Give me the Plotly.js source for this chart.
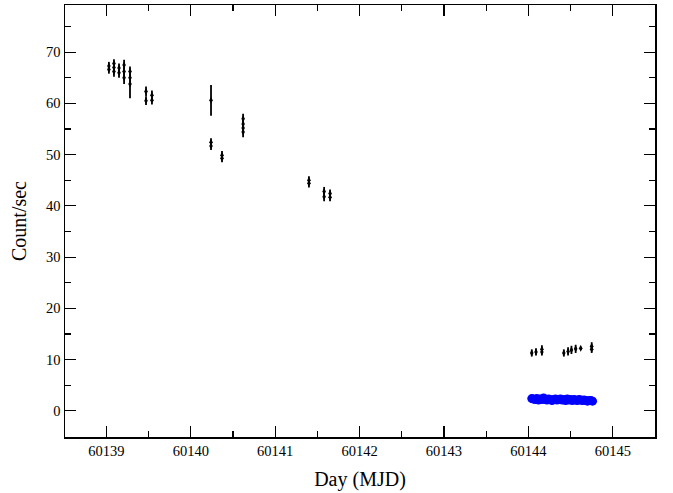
<!DOCTYPE html>
<html>
<head>
<meta charset="utf-8">
<script src="https://cdn.plot.ly/plotly-3.0.1.min.js"></script>
<style>html,body{margin:0;padding:0;background:#fff;}#chart{width:673px;height:493px;}</style>
</head>
<body>
<div id="chart"></div>
<script>
// Black series (higher count rate)
const blackX = [60139.03, 60139.03, 60139.09, 60139.09, 60139.09, 60139.15, 60139.15,
  60139.21, 60139.21, 60139.21, 60139.28, 60139.28, 60139.28,
  60139.47, 60139.47, 60139.54, 60139.54,
  60140.24, 60140.24, 60140.24, 60140.37, 60140.37,
  60140.62, 60140.62, 60140.62, 60140.62,
  60141.40, 60141.40, 60141.58, 60141.58, 60141.65, 60141.65,
  60144.04, 60144.09, 60144.16, 60144.16, 60144.42, 60144.47, 60144.51, 60144.56, 60144.62, 60144.75, 60144.75];
const blackY = [67.3, 66.6, 67.8, 67.0, 66.2, 66.9, 66.0,
  67.5, 66.2, 65.0, 66.2, 65.0, 63.8,
  62.3, 60.5, 61.6, 60.6,
  60.6, 52.4, 51.7, 49.9, 49.3,
  57.0, 56.0, 55.2, 54.4,
  45.0, 44.4, 42.8, 41.8, 42.4, 41.7,
  11.3, 11.5, 12.0, 11.5, 11.3, 11.6, 11.9, 12.1, 12.2, 12.6, 12.0];
const blackErr = [0.8, 0.8, 0.8, 1.0, 1.0, 0.9, 1.0,
  1.0, 1.0, 1.2, 1.0, 1.2, 2.8,
  1.0, 0.8, 0.9, 0.8,
  3.0, 0.8, 0.8, 0.8, 0.8,
  1.0, 1.0, 1.0, 1.0,
  0.8, 0.8, 0.9, 0.9, 0.8, 0.8,
  0.7, 0.7, 0.8, 0.7, 0.7, 0.8, 0.8, 0.8, 0.3, 0.8, 0.7];

// Blue series (low count rate)
const blueX = [60144.04, 60144.06, 60144.08, 60144.10, 60144.12, 60144.14, 60144.16, 60144.18,
  60144.20, 60144.22, 60144.24, 60144.26, 60144.28, 60144.30, 60144.32, 60144.34,
  60144.36, 60144.38, 60144.40, 60144.42, 60144.44, 60144.46, 60144.48, 60144.50,
  60144.52, 60144.54, 60144.56, 60144.58, 60144.60, 60144.62, 60144.64, 60144.66,
  60144.68, 60144.70, 60144.72, 60144.74, 60144.76];
const blueY = [2.4, 2.3, 2.2, 2.4, 2.1, 2.3, 2.2, 2.5, 2.2, 2.1, 2.3, 2.2, 2.0, 2.2, 2.3, 2.1,
  2.2, 2.3, 2.1, 2.2, 2.0, 2.3, 2.1, 2.2, 2.0, 2.2, 2.1, 2.0, 2.2, 2.1, 2.0, 2.1,
  2.0, 1.9, 2.0, 2.0, 1.9];
const blueErr = [0.3, 0.3, 0.3, 0.3, 0.3, 0.3, 0.3, 0.8, 0.3, 0.3, 0.3, 0.3, 0.3, 0.3, 0.3, 0.3,
  0.3, 0.3, 0.3, 0.3, 0.3, 0.3, 0.3, 0.3, 0.3, 0.3, 0.3, 0.3, 0.3, 0.3, 0.3, 0.3,
  0.3, 0.3, 0.3, 0.3, 0.3];

const xTicks = [60139, 60140, 60141, 60142, 60143, 60144, 60145];
const xTickText = ['60139', '60140', '60141', '60142', '60143', '60144', '60145'];
const yTicks = [0, 10, 20, 30, 40, 50, 60, 70];

const traces = [
  {
    x: blueX, y: blueY, type: 'scatter', mode: 'markers',
    marker: {color: '#0000ff', size: 9, symbol: 'circle'},
    error_y: {type: 'data', array: blueErr, visible: true, color: '#0000ff', thickness: 1, width: 0},
    showlegend: false
  },
  {
    x: blackX, y: blackY, type: 'scatter', mode: 'markers',
    marker: {color: '#000000', size: 5, symbol: 'diamond-tall'},
    error_y: {type: 'data', array: blackErr, visible: true, color: '#000000', thickness: 1.8, width: 0},
    showlegend: false
  }
];

const axisCommon = {
  showline: true, linecolor: '#000', linewidth: 1.5, mirror: 'allticks',
  ticks: 'inside', ticklen: 11, tickwidth: 1.2, tickcolor: '#000',
  showgrid: false, zeroline: false,
  tickfont: {family: 'Liberation Serif, serif', size: 14.5, color: '#000'},
  minor: {ticks: 'inside', ticklen: 6, tickwidth: 1.2, tickcolor: '#000', showgrid: false}
};

const layout = {
  width: 673, height: 493,
  margin: {l: 65, r: 18, t: 5, b: 56},
  paper_bgcolor: '#fff', plot_bgcolor: '#fff',
  showlegend: false,
  xaxis: Object.assign({}, axisCommon, {
    range: [60138.51, 60145.5],
    tickmode: 'array', tickvals: xTicks, ticktext: xTickText,
    minor: Object.assign({}, axisCommon.minor, {dtick: 0.5, tick0: 60138.5}),
    title: {text: 'Day (MJD)', font: {family: 'Liberation Serif, serif', size: 20, color: '#000'}, standoff: 14}
  }),
  yaxis: Object.assign({}, axisCommon, {
    range: [-5.1, 79.2],
    tickmode: 'array', tickvals: yTicks,
    minor: Object.assign({}, axisCommon.minor, {dtick: 5, tick0: 0}),
    title: {text: 'Count/sec', font: {family: 'Liberation Serif, serif', size: 20, color: '#000'}, standoff: 14}
  })
};

Plotly.newPlot('chart', traces, layout, {displayModeBar: false, staticPlot: true});
</script>
</body>
</html>
